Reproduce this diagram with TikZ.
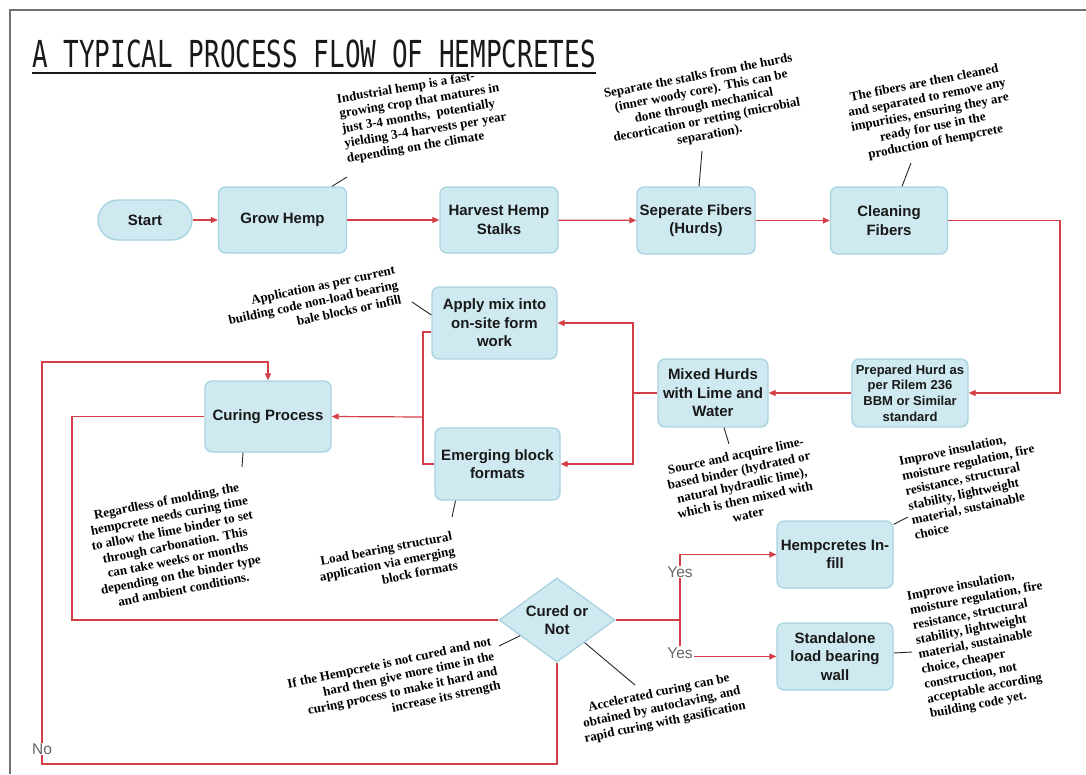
\documentclass[tikz,border=0pt]{standalone}
\usepackage{fontspec}
\usepackage{graphicx}
\setmainfont{Liberation Serif}
\newfontfamily\boxfont{Liberation Sans}
\newfontfamily\titlefont{DejaVu Sans Mono}
\usetikzlibrary{shapes.geometric,arrows.meta,calc}
\definecolor{boxfill}{RGB}{207,233,240}
\definecolor{boxline}{RGB}{168,211,224}
\definecolor{flowred}{RGB}{212,62,70}
\definecolor{txt}{RGB}{25,25,25}
\begin{document}
\begin{tikzpicture}[x=1pt,y=-1pt,
  box/.style={draw=boxline, fill=boxfill, line width=1.3pt, rounded corners=7pt, inner sep=0pt, align=center, text=txt, font=\boxfont\bfseries\fontsize{15}{18.5}\selectfont},
  flow/.style={draw=flowred, line width=1.2pt},
  arr/.style={flow, -{Triangle[length=7pt,width=6pt]}},
  lead/.style={draw=black!85, line width=0.9pt},
  ann/.style={inner sep=0pt, text=black, font=\bfseries\fontsize{13}{15}\selectfont},
  lbl/.style={fill=white, inner sep=1pt, text=black!60, font=\boxfont\fontsize{15.5}{18}\selectfont}]
\useasboundingbox (0,0) rectangle (1086,774);
\fill[white] (0,0) rectangle (1086,774);
% frame
\draw[black!55, line width=1.2pt] (1086,10) -- (10,10) -- (10,774);
% title
\node[anchor=base west, inner sep=0pt, text=txt] (title) at (32,67) {\titlefont\fontsize{26}{26}\selectfont\scalebox{1}[1.43]{A TYPICAL PROCESS FLOW OF HEMPCRETES}};
\draw[txt, line width=2pt] (32,73) -- (596,73);

% boxes
\node[box, rounded corners=20pt, minimum width=94pt, minimum height=40pt] (start) at (145,220) {Start};
\node[box, minimum width=128pt, minimum height=66pt] (grow) at (282.5,220) {Grow Hemp};
\node[box, minimum width=118pt, minimum height=66pt] (harvest) at (499,220) {Harvest Hemp\\Stalks};
\node[box, minimum width=118pt, minimum height=67pt] (sep) at (696,220.5) {Seperate Fibers\\(Hurds)};
\node[box, minimum width=117pt, minimum height=67pt] (clean) at (889,220.5) {Cleaning\\Fibers};
\node[box, minimum width=116pt, minimum height=68pt, font=\boxfont\bfseries\fontsize{13}{15.7}\selectfont] (prep) at (910,393) {Prepared Hurd as\\per Rilem 236\\BBM or Similar\\standard};
\node[box, minimum width=110pt, minimum height=68pt] (mixed) at (713,393) {Mixed Hurds\\with Lime and\\Water};
\node[box, minimum width=125pt, minimum height=72pt] (apply) at (494.5,323) {Apply mix into\\on-site form\\work};
\node[box, minimum width=125pt, minimum height=72pt] (emerg) at (497.5,464) {Emerging block\\formats};
\node[box, minimum width=126pt, minimum height=71pt] (curing) at (268,416.5) {Curing Process};
\node[box, shape=diamond, rounded corners=0pt, aspect=1.38, minimum width=116pt, minimum height=84pt] (dia) at (557,620) {Cured or\\Not};
\node[box, minimum width=116pt, minimum height=67pt] (infill) at (835,554.5) {Hempcretes In-\\fill};
\node[box, minimum width=116pt, minimum height=67pt] (stand) at (835,656.5) {Standalone\\load bearing\\wall};

% coordinates
\coordinate (cR) at (1060,300);
\coordinate (jM) at (633,393);
\coordinate (jA) at (423,417);
\coordinate (cL) at (72,500);
\coordinate (cB) at (42,764);
\coordinate (cT) at (42,362);
\coordinate (jY) at (680,620);

% flow connectors
\draw[arr] (start) -- (grow);
\draw[arr] (grow) -- (harvest);
\draw[arr] (harvest) -- (sep);
\draw[arr] (sep) -- (clean);
\draw[arr] (clean.east) -| (cR) |- (prep.east);
\draw[arr] (prep) -- (mixed);
\draw[flow] (mixed.west) -- (jM);
\draw[arr] (jM) |- (apply.east);
\draw[arr] (jM) |- (emerg.east);
\draw[flow] ([yshift=-9pt]apply.west) -| (jA) |- (emerg.west);
\draw[arr] (jA) -- (curing.east);
\draw[flow] (dia.west) -| (cL) |- (curing.west);
\draw[arr] (dia.south) |- (cB) -- (cT) -| (curing.north);
\draw[flow] (dia.east) -- (jY);
\draw[arr] (jY) |- (infill.west);
\node[lbl] (yes1) at (680,572) {Yes};
\node[lbl] (yes2) at (680,653) {Yes};
\node[lbl] (no) at (42,749) {No};
\draw[flow] (jY) -- (yes2.north);
\draw[arr] (yes2.east |- stand.west) -- (stand.west);

% annotations
\node[ann, rotate=9.5, anchor=north west, align=left] (aGrow) at (336,94) {Industrial hemp is a fast-\\growing crop that matures in\\just 3-4 months,\ \ potentially\\yielding 3-4 harvests per year\\depending on the climate};
\node[ann, rotate=11, align=center] (aSep) at (704,106) {Separate the stalks from the hurds\\(inner woody core). This can be\\done through mechanical\\decortication or retting (microbial\\separation).};
\node[ann, rotate=11, align=center] (aClean) at (930,113) {The fibers are then cleaned\\and separated to remove any\\impurities, ensuring they are\\ready for use in the\\production of hempcrete};
\node[ann, rotate=12, anchor=north east, align=right] (aApply) at (394,265) {Application as per current\\building code non-load bearing\\bale blocks or infill};
\node[ann, rotate=11, align=center] (aCuring) at (175,545) {Regardless of molding, the\\hempcrete needs curing time\\to allow the lime binder to set\\through carbonation. This\\can take weeks or months\\depending on the binder type\\and ambient conditions.};
\node[ann, rotate=11, anchor=north east, align=right] (aEmerg) at (451,531) {Load bearing structural\\application via emerging\\block formats};
\node[ann, rotate=12, align=center] (aMixed) at (742,485) {Source and acquire lime-\\based binder (hydrated or\\natural hydraulic lime),\\which is then mixed with\\water};
\node[ann, rotate=12, anchor=north west, align=left] (aInfill) at (898,457) {Improve insulation,\\moisture regulation, fire\\resistance, structural\\stability, lightweight\\material, sustainable\\choice};
\node[ann, rotate=11, anchor=north west, align=left] (aStand) at (906,591) {Improve insulation,\\moisture regulation, fire\\resistance, structural\\stability, lightweight\\material, sustainable\\choice, cheaper\\construction, not\\acceptable according\\building code yet.};
\node[ann, rotate=12, anchor=north east, align=right] (aDiaL) at (490,636) {If the Hempcrete is not cured and not\\hard then give more time in the\\curing process to make it hard and\\increase its strength};
\node[ann, rotate=12, align=center] (aDiaR) at (662,708) {Accelerated curing can be\\obtained by autoclaving, and\\rapid curing with gasification};

% leader coordinates
\coordinate (lGrow) at (347,177);
\coordinate (lSep) at (702,151);
\coordinate (lClean) at (911,163);
\coordinate (lApply) at (412,302);
\coordinate (lCuring) at (242,467);
\coordinate (lEmerg) at (452,517);
\coordinate (lMixed) at (729,444);
\coordinate (lInfill) at (908,517);
\coordinate (lStand) at (912,652);
\coordinate (lDiaL) at (499,646);
\coordinate (lDiaR) at (635,685);

% leaders
\draw[lead] ([xshift=49.5pt]grow.north) -- (lGrow);
\draw[lead] ([xshift=3pt]sep.north) -- (lSep);
\draw[lead] ([xshift=13pt]clean.north) -- (lClean);
\draw[lead] ([yshift=8pt]apply.west) -- (lApply);
\draw[lead] ([xshift=-25pt]curing.south) -- (lCuring);
\draw[lead] ([xshift=-42pt]emerg.south) -- (lEmerg);
\draw[lead] ([xshift=11pt]mixed.south) -- (lMixed);
\draw[lead] ([yshift=-4pt]infill.north east) -- (lInfill);
\draw[lead] ([yshift=3.5pt]stand.east) -- (lStand);
\draw[lead] ($(dia.west)!0.37!(dia.south)$) -- (lDiaL);
\draw[lead] ($(dia.south)!0.47!(dia.east)$) -- (lDiaR);
\end{tikzpicture}
\end{document}
